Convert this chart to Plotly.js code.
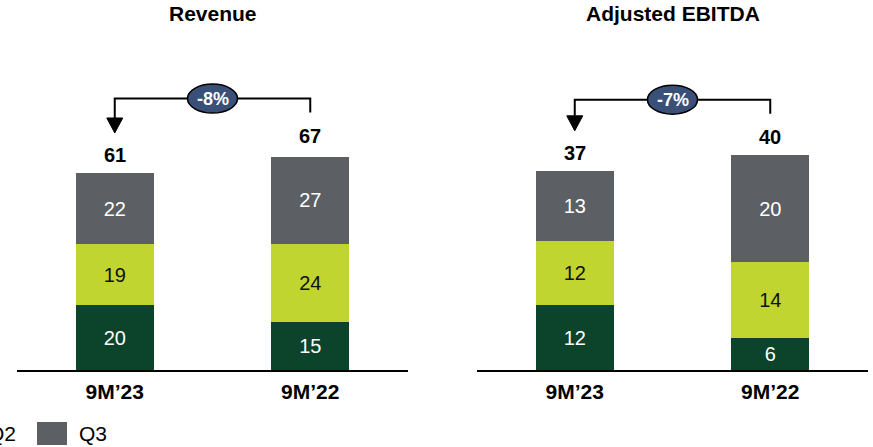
<!DOCTYPE html>
<html>
<head>
<meta charset="utf-8">
<script src="https://cdn.plot.ly/plotly-3.0.1.min.js"></script>
<style>html,body{margin:0;padding:0;background:#fff;}#chart{width:873px;height:447px;}</style>
</head>
<body>
<div id="chart"></div>
<script>
// ---- data ----
const categories = ['9M\u201923', '9M\u201922'];
const seriesNames = ['Q1', 'Q2', 'Q3'];
const chartTitles = ['Revenue', 'Adjusted EBITDA'];
const revenueQ1 = [20, 15];
const revenueQ2 = [19, 24];
const revenueQ3 = [22, 27];
const revenueTotal = [61, 67];
const ebitdaQ1 = [12, 6];
const ebitdaQ2 = [12, 14];
const ebitdaQ3 = [13, 20];
const ebitdaTotal = [37, 40];
const changeLabels = ['-8%', '-7%'];

// ---- style ----
const W = 873, H = 447;
const M = {l: 0, r: 0, t: 47, b: 77};
const plotH = H - M.t - M.b;
const FONT = 'Liberation Sans, Arial, sans-serif';
const colors = ['#0b432b', '#c0d530', '#5c5f64'];
const textColors = ['#ffffff', '#111111', '#ffffff'];
const domainsPx = [[17, 408], [477, 868]];
const yTops = [100, 60];
const px2paperX = px => px / W;
const px2paperY = py => (H - M.b - py) / plotH;

const charts = [
  {series: [revenueQ1, revenueQ2, revenueQ3], total: revenueTotal},
  {series: [ebitdaQ1, ebitdaQ2, ebitdaQ3], total: ebitdaTotal}
];
const xIdx = categories.map((_, i) => i);

const traces = [];
const shapes = [];
const annotations = [];
const layout = {
  width: W, height: H, margin: M,
  paper_bgcolor: '#fff', plot_bgcolor: '#fff',
  barmode: 'stack', showlegend: false,
  font: {family: FONT, color: '#000'}
};

charts.forEach((ch, c) => {
  const sfx = c === 0 ? '' : String(c + 1);
  const xa = 'x' + sfx, ya = 'y' + sfx;
  ch.series.forEach((vals, s) => {
    traces.push({
      type: 'bar', x: xIdx, y: vals, xaxis: xa, yaxis: ya,
      name: seriesNames[s], width: 0.4,
      marker: {color: colors[s], line: {width: 0}},
      text: vals.map(String), textposition: 'inside', insidetextanchor: 'middle',
      textangle: 0, constraintext: 'none',
      textfont: {family: FONT, size: 20, color: textColors[s]},
      hoverinfo: 'skip'
    });
  });
  const dom = domainsPx[c];
  layout['xaxis' + sfx] = {
    domain: [px2paperX(dom[0]), px2paperX(dom[1])],
    anchor: ya, range: [-0.5, 1.5], tickvals: xIdx, ticktext: categories,
    showline: true, linecolor: '#000', linewidth: 2, showgrid: false, zeroline: false,
    ticks: '', ticklabelstandoff: 2,
    tickfont: {family: FONT, size: 21, color: '#000', weight: 'bold'}, fixedrange: true
  };
  layout['yaxis' + sfx] = {
    domain: [0, 1], anchor: xa, range: [0, yTops[c]], visible: false, fixedrange: true
  };
  // totals
  ch.total.forEach((t, i) => {
    annotations.push({
      xref: xa, yref: ya, x: i, y: t, yanchor: 'bottom', yshift: 5,
      text: '<b>' + t + '</b>', showarrow: false,
      font: {family: FONT, size: 20, color: '#000'}
    });
  });
  // bracket
  const ppu = plotH / yTops[c];
  const xppu = (dom[1] - dom[0]) / 2;
  const tipY = ch.total[0] + 40 / ppu;
  const headTop = tipY + 15 / ppu;
  const endY = ch.total[1] + 41 / ppu;
  const lineY = Math.max(...ch.total) + 55 / ppu;
  shapes.push({
    type: 'path', xref: xa, yref: ya,
    path: `M0,${headTop} L0,${lineY} L1,${lineY} L1,${endY}`,
    line: {color: '#000', width: 2}
  });
  const hw = 8 / xppu;
  shapes.push({
    type: 'path', xref: xa, yref: ya,
    path: `M${-hw},${headTop} L${hw},${headTop} L0,${tipY} Z`,
    fillcolor: '#000', line: {color: '#000', width: 1}
  });
  const mid = (xIdx[0] + xIdx[1]) / 2;
  shapes.push({
    type: 'circle', xref: xa, yref: ya,
    x0: mid - 25 / xppu, x1: mid + 25 / xppu,
    y0: lineY - 14.5 / ppu, y1: lineY + 14.5 / ppu,
    fillcolor: '#3b5078', line: {color: '#000', width: 1.5}
  });
  annotations.push({
    xref: xa, yref: ya, x: mid, y: lineY, text: '<b>' + changeLabels[c] + '</b>',
    showarrow: false, font: {family: FONT, size: 18, color: '#fff'}
  });
  // title
  annotations.push({
    xref: 'paper', yref: 'paper', x: px2paperX((dom[0] + dom[1]) / 2), y: px2paperY(14),
    xanchor: 'center', yanchor: 'middle', text: '<b>' + chartTitles[c] + '</b>', showarrow: false,
    font: {family: FONT, size: 21, color: '#000'}
  });
});

// legend (partially outside left edge, as in reference)
seriesNames.forEach((name, i) => {
  const left = 37 - (seriesNames.length - 1 - i) * 91;
  shapes.push({
    type: 'rect', xref: 'paper', yref: 'paper',
    x0: px2paperX(left), x1: px2paperX(left + 30),
    y0: px2paperY(445), y1: px2paperY(422),
    fillcolor: colors[i], line: {width: 0}
  });
  annotations.push({
    xref: 'paper', yref: 'paper', x: px2paperX(left + 40), y: px2paperY(433),
    xanchor: 'left', yanchor: 'middle', text: name, showarrow: false,
    font: {family: FONT, size: 21, color: '#000'}
  });
});

layout.shapes = shapes;
layout.annotations = annotations;
Plotly.newPlot('chart', traces, layout, {displayModeBar: false, staticPlot: true});
</script>
</body>
</html>
